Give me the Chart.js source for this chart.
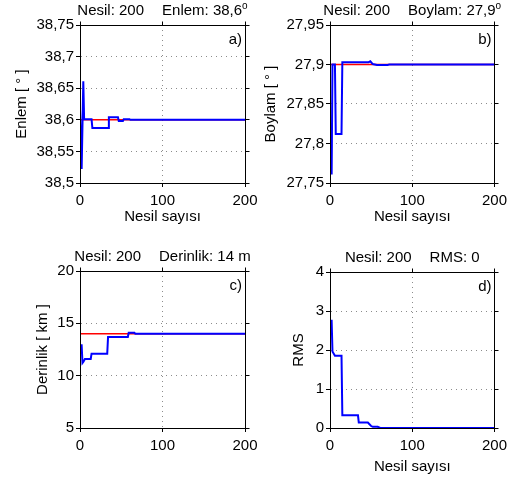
<!DOCTYPE html>
<html>
<head>
<meta charset="utf-8">
<script src="https://cdn.jsdelivr.net/npm/chart.js@4.4.0/dist/chart.umd.min.js"></script>
<style>
    html, body { margin: 0; padding: 0; background: #fff; }
    body { width: 512px; height: 480px; position: relative; overflow: hidden; }
    canvas { position: absolute; }
</style>
</head>
<body>
<canvas id="enlem-canvas"></canvas>
<canvas id="boylam-canvas"></canvas>
<canvas id="derinlik-canvas"></canvas>
<canvas id="rms-canvas"></canvas>
<script>
// ========== Veriler
let gercekNesil = [0, 200];
let gercekEnlem = [38.6, 38.6];
let gercekBoylam = [27.9, 27.9];
let gercekDerinlik = [14, 14];

let enlemNesil = [0, 1, 2, 4, 5, 14, 15, 34, 35, 46, 47, 52, 53, 60, 61, 200];
let enlemDeger = [38.617, 38.617, 38.522, 38.661, 38.601, 38.601, 38.587, 38.587, 38.604, 38.604, 38.598, 38.598, 38.601, 38.601, 38.6, 38.6];

let boylamNesil = [0, 2, 3, 6, 7, 14, 15, 47, 49, 52, 57, 70, 72, 200];
let boylamDeger = [27.762, 27.762, 27.9, 27.9, 27.812, 27.812, 27.903, 27.903, 27.904, 27.9005, 27.8995, 27.8995, 27.9, 27.9];

let derinlikNesil = [0, 2, 3, 4, 6, 13, 14, 33, 34, 58, 59, 66, 67, 200];
let derinlikDeger = [12.9, 12.9, 11.2, 11.3, 11.6, 11.6, 12.1, 12.1, 13.7, 13.7, 14.1, 14.1, 14.0, 14.0];

let rmsNesil = [0, 2, 3, 6, 14, 15, 34, 35, 46, 50, 52, 58, 61, 200];
let rmsDeger = [2.75, 2.75, 1.96, 1.85, 1.85, 0.33, 0.33, 0.14, 0.14, 0.05, 0.03, 0.03, 0.0, 0.0];

let xTikler = [0, 100, 200];

// ========== Renkler
let gercekColor = '#FF0000';
let modelColor = '#0000FF';
let gridColor = '#8c8c8c';

Chart.defaults.font.family = "'Liberation Sans', Arial, sans-serif";
Chart.defaults.font.size = 15;
Chart.defaults.color = '#000';

function noktalar(xs, ys) {
    return xs.map((x, i) => ({ x: x, y: ys[i] }));
}

function virgul(v) {
    return Number(v.toFixed(2)).toString().replace('.', ',');
}

function hizala(p) {
    return Math.round(p - 0.5) + 0.5;
}

// cerceve, ust/sag tikler, baslik ve panel harfi
let cercevePlugin = {
    id: 'cerceve',
    afterDraw(chart, args, opts) {
        let ctx = chart.ctx;
        let a = chart.chartArea;
        let l = hizala(a.left), r = hizala(a.right), t = hizala(a.top), b = hizala(a.bottom);
        ctx.save();
        ctx.strokeStyle = '#000';
        ctx.lineWidth = 1;
        ctx.setLineDash([]);
        ctx.strokeRect(l, t, r - l, b - t);
        ctx.beginPath();
        chart.scales.x.ticks.forEach(tk => {
            let px = hizala(chart.scales.x.getPixelForValue(tk.value));
            ctx.moveTo(px, t); ctx.lineTo(px, t - 4);
        });
        chart.scales.y.ticks.forEach(tk => {
            let py = hizala(chart.scales.y.getPixelForValue(tk.value));
            ctx.moveTo(r, py); ctx.lineTo(r + 4, py);
        });
        ctx.stroke();

        // baslik
        ctx.fillStyle = '#000';
        ctx.textBaseline = 'middle';
        ctx.font = "15px 'Liberation Sans', Arial, sans-serif";
        let w1 = ctx.measureText(opts.baslik[0]).width;
        let w2 = ctx.measureText(opts.baslik[1]).width;
        ctx.font = "10px 'Liberation Sans', Arial, sans-serif";
        let w3 = opts.ust ? ctx.measureText(opts.ust).width : 0;
        let bosluk = 18;
        let x0 = (a.left + a.right) / 2 - (w1 + bosluk + w2 + w3) / 2;
        let yb = a.top - 14;
        ctx.textAlign = 'left';
        ctx.font = "15px 'Liberation Sans', Arial, sans-serif";
        ctx.fillText(opts.baslik[0], x0, yb);
        ctx.fillText(opts.baslik[1], x0 + w1 + bosluk, yb);
        if (opts.ust) {
            ctx.font = "10px 'Liberation Sans', Arial, sans-serif";
            ctx.fillText(opts.ust, x0 + w1 + bosluk + w2, yb - 5);
        }

        // panel harfi
        ctx.font = "15px 'Liberation Sans', Arial, sans-serif";
        ctx.textAlign = 'right';
        ctx.fillText(opts.harf, a.right - 3, a.top + 15);
        ctx.restore();
    }
};

// kutu: canvas yeri, alan: cizim alani (sayfa koordinatlari)
function panel(id, kutu, alan, yBaslikX, xBaslikY, yAyar, xBaslik, datasets, baslik, ust, harf) {
    let canvas = document.getElementById(id);
    canvas.width = kutu.w;
    canvas.height = kutu.h;
    canvas.style.left = kutu.x + 'px';
    canvas.style.top = kutu.y + 'px';

    let baslikOfset = 15 * 1.2 / 2 + 4;
    let padLeft = yBaslikX - kutu.x - baslikOfset;
    let yGenislik = alan.l - kutu.x - padLeft;
    let xYukseklik = xBaslik ? (xBaslikY + baslikOfset - alan.b) : 30;
    let padBottom = kutu.y + kutu.h - alan.b - xYukseklik;

    return new Chart(canvas, {
        type: 'line',
        data: { datasets: datasets },
        plugins: [cercevePlugin],
        options: {
            responsive: false,
            animation: false,
            layout: {
                padding: {
                    left: padLeft,
                    top: alan.t - kutu.y,
                    right: kutu.x + kutu.w - alan.r,
                    bottom: padBottom
                }
            },
            elements: { point: { radius: 0 }, line: { tension: 0 } },
            plugins: {
                legend: { display: false },
                tooltip: { enabled: false },
                cerceve: { baslik: baslik, ust: ust, harf: harf }
            },
            scales: {
                x: {
                    type: 'linear',
                    min: xTikler[0],
                    max: xTikler[xTikler.length - 1],
                    afterBuildTicks: s => { s.ticks = xTikler.map(v => ({ value: v })); },
                    afterFit: s => { s.height = xYukseklik; },
                    ticks: { padding: 5, maxRotation: 0, autoSkip: false },
                    grid: {
                        color: c => (c.tick && c.tick.value > xTikler[0] && c.tick.value < xTikler[xTikler.length - 1]) ? gridColor : 'rgba(0,0,0,0)',
                        tickColor: '#000',
                        tickLength: 4,
                        tickBorderDash: []
                    },
                    border: { color: '#000', dash: [1, 4] },
                    title: { display: !!xBaslik, text: xBaslik, padding: { top: 4, bottom: 4 } }
                },
                y: {
                    min: yAyar.min,
                    max: yAyar.max,
                    afterFit: s => { s.width = yGenislik; },
                    ticks: { stepSize: yAyar.adim, padding: 2, callback: v => virgul(v) },
                    grid: {
                        color: c => (c.tick && c.tick.value > yAyar.min + 1e-9 && c.tick.value < yAyar.max - 1e-9) ? gridColor : 'rgba(0,0,0,0)',
                        tickColor: '#000',
                        tickLength: 4,
                        tickBorderDash: []
                    },
                    border: { color: '#000', dash: [1, 4] },
                    title: { display: true, text: yAyar.baslik, padding: { top: 4, bottom: 4 } }
                }
            }
        }
    });
}

function modelSeri(xs, ys) {
    return { data: noktalar(xs, ys), borderColor: modelColor, borderWidth: 2 };
}
function gercekSeri(xs, ys) {
    return { data: noktalar(xs, ys), borderColor: gercekColor, borderWidth: 1.5 };
}

// @ ========== a) Enlem
panel('enlem-canvas',
    { x: 0, y: 0, w: 280, h: 240 },
    { l: 80, t: 25, r: 245, b: 183 },
    22, 217,
    { min: 38.5, max: 38.75, adim: 0.05, baslik: 'Enlem [ ° ]' },
    'Nesil sayısı',
    [modelSeri(enlemNesil, enlemDeger), gercekSeri(gercekNesil, gercekEnlem)],
    ['Nesil: 200', 'Enlem: 38,6'], 'o', 'a)');

// @ ========== b) Boylam
panel('boylam-canvas',
    { x: 256, y: 0, w: 256, h: 240 },
    { l: 330, t: 25, r: 496, b: 183 },
    271, 217,
    { min: 27.75, max: 27.95, adim: 0.05, baslik: 'Boylam [ ° ]' },
    'Nesil sayısı',
    [modelSeri(boylamNesil, boylamDeger), gercekSeri(gercekNesil, gercekBoylam)],
    ['Nesil: 200', 'Boylam: 27,9'], 'o', 'b)');

// @ ========== c) Derinlik
panel('derinlik-canvas',
    { x: 0, y: 240, w: 280, h: 240 },
    { l: 80, t: 271, r: 245, b: 428 },
    43, null,
    { min: 5, max: 20, adim: 5, baslik: 'Derinlik [ km ]' },
    null,
    [modelSeri(derinlikNesil, derinlikDeger), gercekSeri(gercekNesil, gercekDerinlik)],
    ['Nesil: 200', 'Derinlik: 14 m'], null, 'c)');

// @ ========== d) RMS
panel('rms-canvas',
    { x: 256, y: 240, w: 256, h: 240 },
    { l: 330, t: 272, r: 496, b: 428 },
    299, 467,
    { min: 0, max: 4, adim: 1, baslik: 'RMS' },
    'Nesil sayısı',
    [modelSeri(rmsNesil, rmsDeger)],
    ['Nesil: 200', 'RMS: 0'], null, 'd)');
</script>
</body>
</html>
